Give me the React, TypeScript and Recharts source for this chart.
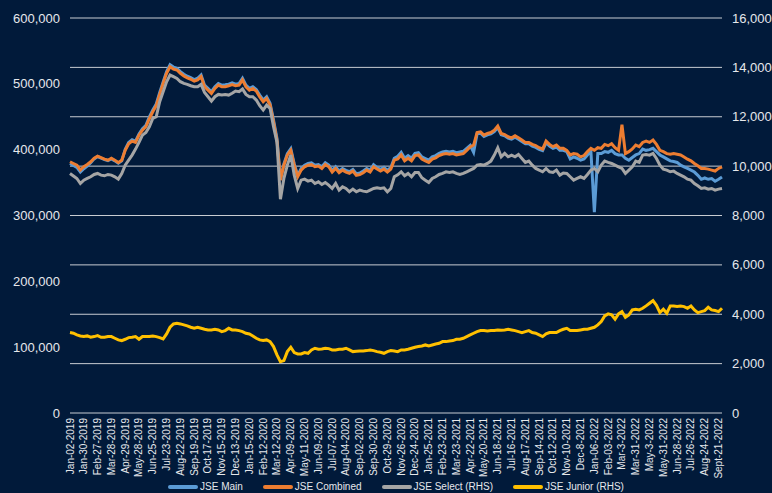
import { LineChart, Line, XAxis, YAxis, CartesianGrid, Legend } from 'recharts';

// one point per trading week, tick label every 4th point
const TICK_LABELS = [
  'Jan-02-2019', 'Jan-30-2019', 'Feb-27-2019', 'Mar-28-2019', 'Apr-29-2019', 'May-28-2019',
  'Jun-25-2019', 'Jul-23-2019', 'Aug-22-2019', 'Sep-19-2019', 'Oct-17-2019', 'Nov-15-2019',
  'Dec-13-2019', 'Jan-15-2020', 'Feb-12-2020', 'Mar-12-2020', 'Apr-09-2020', 'May-11-2020',
  'Jun-09-2020', 'Jul-07-2020', 'Aug-04-2020', 'Sep-02-2020', 'Sep-30-2020', 'Oct-29-2020',
  'Nov-26-2020', 'Dec-24-2020', 'Jan-25-2021', 'Feb-23-2021', 'Mar-23-2021', 'Apr-22-2021',
  'May-20-2021', 'Jun-18-2021', 'Jul-16-2021', 'Aug-17-2021', 'Sep-14-2021', 'Oct-12-2021',
  'Nov-10-2021', 'Dec-8-2021', 'Jan-06-2022', 'Feb-03-2022', 'Mar-3-2022', 'Mar-31-2022',
  'May-3-2022', 'May-31-2022', 'Jun-28-2022', 'Jul-26-2022', 'Aug-24-2022', 'Sept-21-2022',
];
const WEEKS_PER_TICK = 4;

const JSE_MAIN = [
  379000, 376000, 373000, 366000, 371000, 375000, 380000, 386000, 389500, 387000,
  385000, 383500, 386000, 383000, 379500, 383000, 400500, 411000, 415000, 413000,
  424000, 432000, 437000, 450000, 460500, 469500, 487000, 503000, 518500, 529000,
  525500, 523500, 518500, 514500, 511500, 509500, 506500, 508500, 513500, 498000,
  493000, 488000, 495500, 500500, 498000, 498500, 499500, 501500, 499500, 500500,
  508500, 498000, 493000, 495500, 491500, 483000, 475500, 480500, 470500, 445000,
  417000, 355000, 378500, 394000, 401500, 378500, 361000, 371500, 376500, 379000,
  380000, 376500, 377500, 374000, 380000, 376500, 368500, 374000, 367500, 371500,
  368500, 366500, 370000, 363500, 364500, 367500, 371500, 368500, 377000, 373000,
  370000, 373000, 368500, 373000, 387000, 390000, 396000, 387000, 391000, 387000,
  394500, 395500, 389000, 386500, 384000, 389000, 391000, 394500, 396500, 397500,
  396500, 397500, 395500, 396500, 397500, 402000, 406500, 396000, 424000, 425000,
  420000, 422500, 424000, 427500, 433500, 422500, 421000, 417500, 416000, 419000,
  416000, 412500, 409000, 409000, 405500, 403500, 400500, 398500, 410500, 405500,
  402000, 404000, 399000, 399000, 397000, 386000, 389000, 387000, 384000, 386000,
  392000, 397000, 305000, 394000, 394000, 397000, 396000, 399000, 394000, 392000,
  392000, 387000, 384000, 388000, 392000, 394000, 401000, 399000, 400000, 402000,
  397000, 392000, 389000, 386000, 383000, 382000, 380600, 376500, 374000, 371500,
  369000, 366000, 361000, 355000, 357000, 355000, 356000, 352000, 355000, 358500,
];

const JSE_COMBINED = [
  381600, 379000, 376500, 369000, 374000, 377500, 381600, 387000, 390000, 388000,
  385600, 384000, 387000, 384000, 380600, 384000, 399000, 409000, 413000, 411000,
  422000, 429700, 434800, 447000, 457600, 466700, 484000, 500700, 515900, 526000,
  522500, 521000, 516000, 512000, 509000, 507000, 504000, 506000, 511000, 495600,
  490500, 485500, 493000, 498000, 495600, 495600, 497000, 499000, 497000, 498000,
  506000, 495600, 490500, 493000, 489000, 480000, 472800, 477800, 467700, 442000,
  414000, 353700, 376500, 391700, 399000, 376500, 358800, 369000, 374000, 376500,
  377500, 374000, 375000, 371500, 377500, 374000, 366000, 371500, 365000, 369000,
  366000, 364000, 367500, 361000, 362000, 365000, 369000, 366000, 374000, 370500,
  367500, 370500, 366000, 370500, 384000, 386000, 392000, 383000, 387000, 383000,
  391000, 392000, 385600, 383000, 380600, 385600, 387600, 391000, 393000, 394000,
  393000, 394000, 392000, 393000, 394000, 399000, 404000, 407000, 426000, 427000,
  422000, 424600, 426000, 429700, 436000, 424600, 423000, 419600, 418000, 421000,
  418000, 414500, 411000, 411000, 408000, 406000, 403000, 401000, 413000, 408000,
  404600, 407000, 402000, 402000, 399000, 392000, 394000, 393000, 389000, 391000,
  397000, 402000, 399000, 403000, 402000, 408000, 406000, 409000, 403000, 399000,
  438000, 394000, 397000, 401000, 407000, 404600, 411000, 413000, 411000, 414500,
  408000, 399000, 397000, 394000, 393000, 394000, 393000, 392000, 389000, 385600,
  383000, 379000, 375500, 371500, 371500, 370500, 369000, 367500, 371500, 374000,
];

const JSE_SELECT = [
  9703, 9600, 9500, 9297, 9432, 9500, 9568, 9662, 9703, 9635,
  9608, 9662, 9635, 9568, 9473, 9703, 10041, 10243, 10446, 10689,
  10960, 11257, 11365, 11595, 11932, 12000, 12608, 13014, 13419, 13689,
  13622, 13554, 13419, 13351, 13311, 13257, 13216, 13216, 13311, 12986,
  12811, 12635, 12811, 12905, 12878, 12905, 12878, 12950, 13040, 13014,
  13122, 12905, 12811, 12811, 12676, 12446, 12270, 12473, 12338, 11595,
  10960, 8662, 9500, 10041, 10446, 9635, 9095, 9432, 9473, 9392,
  9432, 9297, 9365, 9257, 9338, 9230, 9095, 9297, 9027, 9162,
  9095, 8960, 9068, 8960, 9027, 8987, 8960, 9027, 9095, 9122,
  9095, 9122, 8960, 9095, 9568, 9650, 9770, 9608, 9703, 9568,
  9743, 9743, 9527, 9432, 9338, 9500, 9568, 9662, 9703, 9770,
  9743, 9770, 9703, 9662, 9703, 9770, 9838, 9905, 10041, 10068,
  10041, 10108, 10203, 10446, 10743, 10378, 10514, 10378, 10446, 10378,
  10473, 10311, 10149, 10203, 10041, 9905, 9838, 9770, 9905, 9770,
  9743, 9838, 9635, 9720, 9703, 9568, 9432, 9500, 9568, 9500,
  9662, 9838, 9905, 9770, 10041, 10203, 10149, 10108, 10041, 9973,
  9905, 9703, 9838, 9973, 10203, 10149, 10446, 10473, 10446, 10514,
  10311, 10041, 9878, 9838, 9770, 9797, 9703, 9635, 9568, 9473,
  9432, 9297, 9203, 9095, 9122, 9068, 9095, 9027, 9068, 9095,
];

const JSE_JUNIOR = [
  3257, 3230, 3162, 3122, 3095, 3122, 3068, 3095, 3135, 3068,
  3068, 3095, 3095, 3027, 2960, 2933, 2987, 3054, 3068, 3095,
  2987, 3095, 3095, 3095, 3122, 3095, 3054, 3000, 3203, 3473,
  3608, 3635, 3608, 3568, 3527, 3473, 3432, 3473, 3432, 3392,
  3365, 3365, 3392, 3365, 3297, 3338, 3432, 3365, 3365, 3338,
  3297, 3230, 3203, 3122, 3027, 2960, 2933, 2960, 2892, 2690,
  2352, 2082, 2122, 2487, 2662, 2446, 2392, 2392, 2446, 2419,
  2554, 2622, 2581, 2595, 2622, 2608, 2554, 2554, 2581, 2581,
  2622, 2554, 2487, 2500, 2514, 2514, 2527, 2554, 2527, 2487,
  2460, 2419, 2487, 2527, 2514, 2487, 2554, 2554, 2581, 2622,
  2662, 2690, 2716, 2757, 2716, 2757, 2797, 2824, 2892, 2892,
  2919, 2933, 2987, 2987, 3027, 3095, 3162, 3230, 3297, 3338,
  3338, 3324, 3338, 3338, 3365, 3352, 3365, 3392, 3365, 3338,
  3297, 3257, 3297, 3338, 3257, 3230, 3162, 3095, 3203, 3257,
  3257, 3257, 3338, 3392, 3432, 3338, 3338, 3338, 3365, 3392,
  3392, 3432, 3473, 3568, 3703, 3932, 4014, 3973, 3797, 4014,
  4108, 3878, 3973, 4176, 4203, 4176, 4243, 4338, 4446, 4554,
  4365, 4068, 4203, 4041, 4338, 4338, 4311, 4338, 4311, 4243,
  4338, 4176, 4068, 4108, 4149, 4284, 4176, 4149, 4108, 4243,
];

const LEFT_TICKS = [0, 100000, 200000, 300000, 400000, 500000, 600000];
const RIGHT_TICKS = [0, 2000, 4000, 6000, 8000, 10000, 12000, 14000, 16000];

const SERIES = [
  { key: 'main', name: 'JSE Main', color: '#5b9bd5', axis: 'left' },
  { key: 'combined', name: 'JSE Combined', color: '#ed7d31', axis: 'left' },
  { key: 'select', name: 'JSE Select (RHS)', color: '#a5a5a5', axis: 'right' },
  { key: 'junior', name: 'JSE Junior (RHS)', color: '#ffc000', axis: 'right' },
];

const BG = '#011a3a';
const TEXT = '#e6e8ec';
const FONT = '"Liberation Sans", Arial, Helvetica, sans-serif';

const data = JSE_MAIN.map((v, i) => ({
  week: i,
  main: v,
  combined: JSE_COMBINED[i],
  select: JSE_SELECT[i],
  junior: JSE_JUNIOR[i],
}));

const xTicks = TICK_LABELS.map((_, j) => j * WEEKS_PER_TICK);

function DateTick({ x, y, payload }: any) {
  const label = TICK_LABELS[Math.round(payload.value / WEEKS_PER_TICK)];
  return (
    <g transform={`translate(${x},${y + 5})`}>
      <text transform="rotate(-90)" textAnchor="end" dy="0.35em" fill={TEXT} fontSize={10} fontFamily={FONT}>
        {label}
      </text>
    </g>
  );
}

function LegendRow() {
  return (
    <div
      style={{
        display: 'flex',
        justifyContent: 'center',
        gap: 20,
        paddingLeft: 20,
        height: 12,
        lineHeight: '12px',
        fontSize: 10,
        fontFamily: FONT,
        color: TEXT,
      }}
    >
      {SERIES.map((s) => (
        <div key={s.key} style={{ display: 'flex', alignItems: 'center' }}>
          <span
            style={{
              display: 'inline-block',
              width: 30,
              height: 4,
              borderRadius: 2,
              background: s.color,
              marginRight: 2,
            }}
          />
          {s.name}
        </div>
      ))}
    </div>
  );
}

export default function App() {
  return (
    <div style={{ width: 772, height: 493, background: BG, position: 'absolute', left: 0, top: 0 }}>
      <style>{'body{margin:0;background:' + BG + '}'}</style>
      <LineChart width={772} height={493} data={data} margin={{ top: 18, right: 0, bottom: 0, left: 0 }}>
        <CartesianGrid yAxisId="right" vertical={false} stroke="#c8ccd2" strokeWidth={1} />
        <XAxis
          dataKey="week"
          type="number"
          domain={[0, 189]}
          ticks={xTicks}
          interval={0}
          tick={<DateTick />}
          tickLine={false}
          axisLine={false}
          tickSize={0}
          tickMargin={0}
          height={68}
        />
        <YAxis
          yAxisId="left"
          domain={[0, 600000]}
          ticks={LEFT_TICKS}
          width={70}
          tickLine={false}
          axisLine={false}
          tickMargin={4}
          tick={{ fill: TEXT, fontSize: 13, fontFamily: FONT }}
          tickFormatter={(v: number) => v.toLocaleString('en-US')}
        />
        <YAxis
          yAxisId="right"
          orientation="right"
          domain={[0, 16000]}
          ticks={RIGHT_TICKS}
          width={50}
          tickLine={false}
          axisLine={false}
          tickMargin={4}
          tick={{ fill: TEXT, fontSize: 13, fontFamily: FONT, textAnchor: 'start' }}
          tickFormatter={(v: number) => v.toLocaleString('en-US')}
        />
        <Legend verticalAlign="bottom" height={12} content={<LegendRow />} />
        {SERIES.map((s) => (
          <Line
            key={s.key}
            yAxisId={s.axis}
            dataKey={s.key}
            name={s.name}
            type="linear"
            stroke={s.color}
            strokeWidth={3}
            dot={false}
            isAnimationActive={false}
          />
        ))}
      </LineChart>
    </div>
  );
}
